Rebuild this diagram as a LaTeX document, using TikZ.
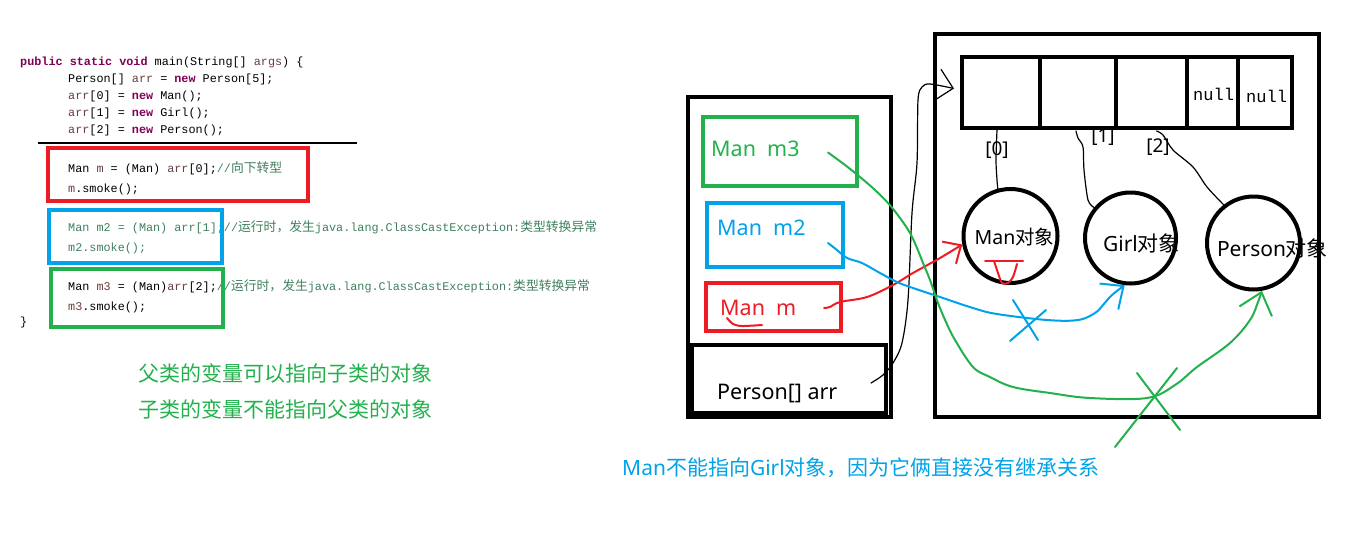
\documentclass[tikz,border=0pt]{standalone}
\usepackage{fontspec}
\setmainfont{Noto Sans}
\setmonofont{Liberation Mono}
\newfontfamily\cjkfont{Noto Sans CJK SC}
\usetikzlibrary{arrows.meta,calc}

\definecolor{kwpurple}{HTML}{7F0055}
\definecolor{varbrown}{HTML}{6A3E3E}
\definecolor{cmtgreen}{HTML}{3F7F5F}
\definecolor{pgreen}{HTML}{22B14C}
\definecolor{pblue}{HTML}{00A2E8}
\definecolor{pred}{HTML}{ED1C24}

\newcommand{\kwd}[1]{\textcolor{kwpurple}{\bfseries #1}}
\newcommand{\varn}[1]{\textcolor{varbrown}{#1}}
\newcommand{\cmnt}[1]{\textcolor{cmtgreen}{#1}}
\newcommand{\zhs}[1]{{\cjkfont\fontsize{12.8}{15}\selectfont #1}}

\begin{document}
\begin{tikzpicture}[x=1pt, y=-1pt]

        % Styles
        \tikzstyle{code} = [anchor=base west, inner sep=0pt, font=\ttfamily\fontsize{11.8}{15}\selectfont]
        \tikzstyle{codebox} = [draw, line width=4pt, inner sep=0pt]
        \tikzstyle{frame} = [draw=black, line width=4pt, inner sep=0pt]
        \tikzstyle{cell} = [frame, minimum height=71]
        \tikzstyle{varlabel} = [anchor=west, inner sep=0pt, font=\fontsize{21.5}{26}\selectfont]
        \tikzstyle{obj} = [circle, draw=black, line width=4pt, inner sep=0pt]
        \tikzstyle{objlabel} = [inner sep=0pt, font=\fontsize{21}{25}\selectfont]
        \tikzstyle{nulltext} = [anchor=west, inner sep=0pt, font=\ttfamily\fontsize{17}{20}\selectfont]
        \tikzstyle{note} = [anchor=west, inner sep=0pt, font=\cjkfont\fontsize{21}{25}\selectfont]
        \tikzstyle{pen} = [line width=1.2pt, line cap=round, line join=round]
        \tikzstyle{marker} = [line width=2pt, line cap=round, line join=round]

        \useasboundingbox (0,0) rectangle (1352,539);

        % Java code
        \node[code] (l1) at (20,65) {\kwd{public static void} main(String[] \varn{args}) \{};
        \node[code] (l2) at (68,82) {Person[] \varn{arr} = \kwd{new} Person[5];};
        \node[code] (l3) at (68,99) {\varn{arr}[0] = \kwd{new} Man();};
        \node[code] (l4) at (68,116) {\varn{arr}[1] = \kwd{new} Girl();};
        \node[code] (l5) at (68,133) {\varn{arr}[2] = \kwd{new} Person();};
        \draw[line width=2pt] (38,143) -- (357,143);
        \node[code] (l6) at (68,172) {Man \varn{m} = (Man) \varn{arr}[0];\cmnt{//\zhs{向下转型}}};
        \node[code] (l7) at (68,192) {\varn{m}.smoke();};
        \node[code] (l8) at (68,231) {\cmnt{Man m2 = (Man) arr[1];//\zhs{运行时，发生}java.lang.ClassCastException:\zhs{类型转换异常}}};
        \node[code] (l9) at (68,251) {\cmnt{m2.smoke();}};
        \node[code] (l10) at (68,290) {Man \varn{m3} = (Man)\varn{arr}[2];\cmnt{//\zhs{运行时，发生}java.lang.ClassCastException:\zhs{类型转换异常}}};
        \node[code] (l11) at (68,310) {\varn{m3}.smoke();};
        \node[code] (l12) at (20,325) {\}};

        % Boxes round the casts
        \node[codebox, draw=pred, minimum width=260, minimum height=53] (redbox) at (178,174.5) {};
        \node[codebox, draw=pblue, minimum width=173, minimum height=53] (bluebox) at (135.5,236.5) {};
        \node[codebox, draw=pgreen, minimum width=172, minimum height=58] (greenbox) at (137,298) {};

        % Notes
        \node[note, text=pgreen] (rule1) at (138,373) {父类的变量可以指向子类的对象};
        \node[note, text=pgreen] (rule2) at (138,409) {子类的变量不能指向父类的对象};
        \node[note, text=pblue, font=\fontsize{21}{25}\selectfont] (why) at (622,468) {Man{\cjkfont 不能指向}Girl{\cjkfont 对象，因为它俩直接没有继承关系}};

        % Stack
        \node[frame, minimum width=203, minimum height=320] (stack) at (789.5,257) {};
        \node[codebox, draw=pgreen, minimum width=154, minimum height=69] (m3box) at (780,151.5) {};
        \node[codebox, draw=pblue, minimum width=136, minimum height=64] (m2box) at (775,235) {};
        \node[codebox, draw=pred, minimum width=135, minimum height=48] (mbox) at (773.5,307) {};
        \node[frame, minimum width=194, minimum height=68] (arrbox) at (789,379) {};
        \node[varlabel, text=pgreen] (m3) at (711,149) {Man~~m3};
        \node[varlabel, text=pblue] (m2) at (717,228) {Man~~m2};
        \node[varlabel, text=pred] (m) at (720,308) {Man~~m};
        \node[varlabel] (arr) at (717,394) {Person[] arr};
        \draw[marker, draw=pred] plot[smooth] coordinates {(727,318) (733,324) (742,326) (762,325)};

        % Heap
        \node[frame, minimum width=384, minimum height=383] (heap) at (1127,225.5) {};
        \node[nulltext] (null3) at (1193,94) {null};
        \node[nulltext] (null4) at (1246,96) {null};
        \foreach \nm/\cx/\w in {c0/1001/78, c1/1078/76, c2/1151.5/71, c3/1212.5/51, c4/1265/54}
            \node[cell, minimum width=\w] (\nm) at (\cx,92.5) {};
        \node[objlabel, font=\fontsize{19}{22}\selectfont] (i0) at (997,150) {[0]};
        \node[objlabel, font=\fontsize{19}{22}\selectfont] (i1) at (1103,137) {[1]};
        \node[objlabel, font=\fontsize{19}{22}\selectfont] (i2) at (1158,147) {[2]};

        \node[obj, minimum size=94] (manobj) at (1010.5,236) {};
        \node[obj, minimum size=91] (girlobj) at (1130.5,238) {};
        \node[obj, minimum size=93] (personobj) at (1253.5,243) {};
        \node[objlabel, font=\fontsize{19.5}{23}\selectfont] (manlbl) at (1014.5,237) {Man{\cjkfont 对象}};
        \node[objlabel] (girllbl) at (1141.5,243) {Girl{\cjkfont 对象}};
        \node[objlabel] (personlbl) at (1272.5,248) {Person{\cjkfont 对象}};

        % References from the array
        \coordinate (c0out) at ($(c0.south)+(-4,0)$);
        \coordinate (c1out) at ($(c1.south)+(-2,1)$);
        \coordinate (c2out) at ($(c2.south)+(5,1)$);
        \draw[pen] plot[smooth] coordinates {(c0out) (996,160) (997,180) (manobj.105)};
        \draw[pen] plot[smooth] coordinates {(c1out) (1078,138) (1083,147) (1084,170) (1088,200) (girlobj.140)};
        \draw[pen] plot[smooth] coordinates {(c2out) (1163,135) (1173,150) (1193,167) (1207,187) (personobj.128)};

        % arr points to the array
        \coordinate (arrout) at ($(arrbox.east)+(-17,4)$);
        \coordinate (c0in) at ($(c0.west)+(-6,-4)$);
        \draw[pen, -{Straight Barb[length=16,width=32]}] plot[smooth, tension=0.5] coordinates {(arrout) (883,375) (893,363) (902,343) (908,300) (912,213) (917,163) (918,100) (922,87) (930,84) (c0in)};

        % m -> Man object
        \coordinate (mout) at ($(mbox.east)+(-19,1)$);
        \draw[marker, draw=pred, -{Straight Barb[length=14,width=26]}] plot[smooth, tension=0.6] coordinates {(mout) (830,307) (840,302) (867,297) (893,285) (913,273) (940,258) (manobj.190)};
        \draw[marker, draw=pred] (985,261) -- (1023,261);
        \draw[marker, draw=pred] plot[smooth] coordinates {(994,261) (998,273) (1002,283) (1008,283) (1013,277) (1017,264)};

        % m2 -> Girl object, crossed out
        \coordinate (m2out) at ($(m2box.east)+(-17,8)$);
        \draw[marker, draw=pblue, -{Straight Barb[length=18,width=32]}] plot[smooth, tension=0.6] coordinates {(m2out) (837,250) (847,258) (862,263) (880,273) (897,282) (913,288) (940,297) (973,308) (997,314) (1047,320) (1078,320) (1095,313) (1103,305) (1112,295) (girlobj.263)};
        \draw[marker, draw=pblue] (1013,300) -- (1038,340);
        \draw[marker, draw=pblue] (1046,310) -- (1010,341);

        % m3 -> Person object, crossed out
        \coordinate (m3out) at ($(m3box.east)+(-31,1)$);
        \draw[marker, draw=pgreen, -{Straight Barb[length=20,width=34]}] plot[smooth, tension=0.6] coordinates {(m3out) (845,165) (860,177) (875,190) (888,203) (900,218) (910,233) (917,248) (923,263) (930,280) (938,303) (946,322) (955,340) (973,367) (990,377) (1013,387) (1050,393) (1090,398) (1147,398) (1175,385) (1197,367) (1230,343) (1250,320) (1258,302) (personobj.-80)};
        \draw[marker, draw=pgreen] (1137,373) -- (1180,430);
        \draw[marker, draw=pgreen] (1177,368) -- (1115,447);

\end{tikzpicture}
\end{document}
